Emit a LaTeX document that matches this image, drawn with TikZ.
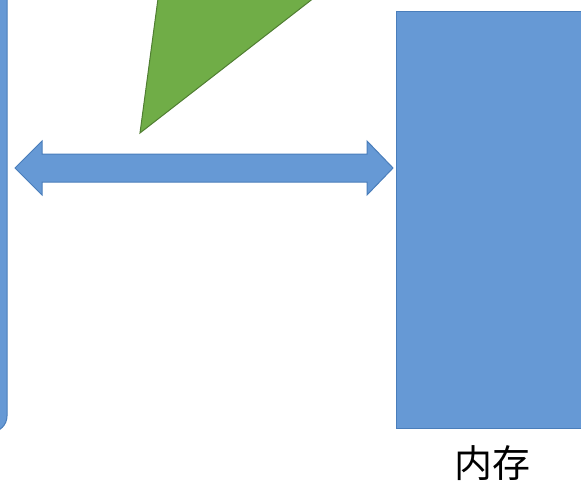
\documentclass[tikz,border=0pt]{standalone}
\usepackage{fontspec}
\newfontfamily\cjk{Noto Sans CJK SC}
\definecolor{bfill}{HTML}{6699D5}
\definecolor{bline}{HTML}{4A7EBB}
\definecolor{gfill}{HTML}{70AD47}
\definecolor{gline}{HTML}{507E32}
\tikzset{
  bluebox/.style={fill=bfill, draw=bline, line width=1pt},
  greenshape/.style={fill=gfill, draw=gline, line width=1pt, line join=miter},
  lbl/.style={font=\cjk\fontsize{38}{40}\selectfont, inner sep=0pt}
}
\begin{document}
\begin{tikzpicture}[x=1pt,y=-1pt]
\useasboundingbox (0,0) rectangle (581,487);
\clip (0,0) rectangle (581,487);
% left block (cut off)
\draw[bluebox, rounded corners=16pt] (-120,-20) rectangle (7,432);
% right memory block
\node[bluebox, minimum width=220pt, minimum height=417pt, anchor=north west, inner sep=0pt] (mem) at (396,11) {};
\node[lbl] (memlabel) at (492,463) {内存};
% green triangle (cut off at top)
\draw[greenshape] (140,133) -- (160.5,-20) -- (337,-20) -- cycle;
% double arrow
\draw[bluebox, line join=miter]
  (15,168) -- (42,141) -- (42,154) -- (367,154) -- (367,141) -- (393,168)
  -- (367,195) -- (367,182) -- (42,182) -- (42,195) -- cycle;
\end{tikzpicture}
\end{document}
